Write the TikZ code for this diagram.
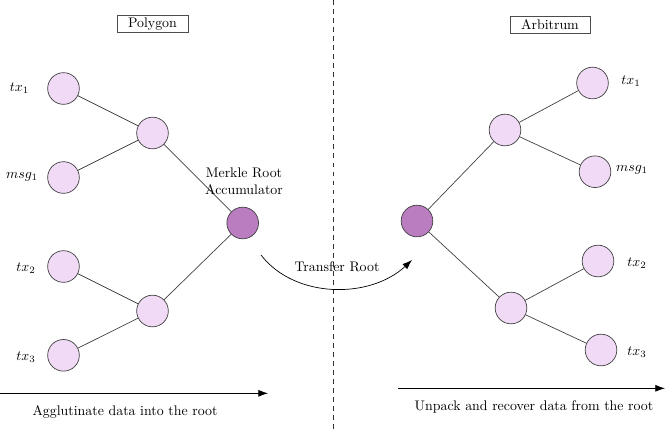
\documentclass[tikz,border=0pt]{standalone}
\usetikzlibrary{arrows.meta}
\definecolor{leaf}{HTML}{F1DAF5}
\definecolor{rootc}{HTML}{B97DC0}
\begin{document}
\begin{tikzpicture}[x=0.72pt,y=-0.72pt,
  leafnode/.style={circle,draw=black!75,fill=leaf,minimum size=22.8pt,inner sep=0pt,line width=0.5pt},
  rootnode/.style={circle,draw=black!75,fill=rootc,minimum size=22.8pt,inner sep=0pt,line width=0.5pt},
  link/.style={draw=black!75,line width=0.5pt},
  titlebox/.style={draw=black!70,line width=0.5pt,inner xsep=8pt,inner ysep=1.5pt,minimum height=12.4pt},
  flow/.style={draw=black,line width=0.5pt,-{Latex[length=7pt,width=5pt]}}]
\useasboundingbox (0,0) rectangle (665,433);
% divider
\coordinate (dtop) at (333,0);
\coordinate (dbot) at (333,433);
\draw[black!80,line width=0.5pt,dash pattern=on 3.5pt off 3pt] (dtop) -- (dbot);
% titles
\node[titlebox] (poly) at (152.5,24) {Polygon};
\node[titlebox] (arb) at (550,25) {Arbitrum};
% left tree
\node[leafnode] (l1) at (63.5,88.5) {};
\node[leafnode] (l2) at (63.5,177.5) {};
\node[leafnode] (l3) at (63.5,266.5) {};
\node[leafnode] (l4) at (63.5,355.3) {};
\node[leafnode] (lm1) at (152.5,133) {};
\node[leafnode] (lm2) at (152.5,311) {};
\node[rootnode] (lr) at (242.7,223) {};
\draw[link] (l1) -- (lm1);
\draw[link] (l2) -- (lm1);
\draw[link] (l3) -- (lm2);
\draw[link] (l4) -- (lm2);
\draw[link] (lm1) -- (lr);
\draw[link] (lm2) -- (lr);
\node (tl1) at (19.5,88) {$tx_1$};
\node (tl2) at (22,177) {$msg_1$};
\node (tl3) at (26,268) {$tx_2$};
\node (tl4) at (26,357) {$tx_3$};
\node[align=center,inner sep=0pt] (mra) at (244,181) {Merkle Root\\Accumulator};
% right tree
\node[rootnode] (rr) at (417,221) {};
\node[leafnode] (rm1) at (505,130) {};
\node[leafnode] (rm2) at (511,308) {};
\node[leafnode] (r1) at (592.5,83) {};
\node[leafnode] (r2) at (595,171.7) {};
\node[leafnode] (r3) at (598,261) {};
\node[leafnode] (r4) at (601,350) {};
\draw[link] (rr) -- (rm1);
\draw[link] (rr) -- (rm2);
\draw[link] (rm1) -- (r1);
\draw[link] (rm1) -- (r2);
\draw[link] (rm2) -- (r3);
\draw[link] (rm2) -- (r4);
\node (tr1) at (631,81) {$tx_1$};
\node (tr2) at (632,170) {$msg_1$};
\node (tr3) at (637,263) {$tx_2$};
\node (tr4) at (637,352) {$tx_3$};
% transfer arc
\coordinate (ts) at (261,255);
\coordinate (te) at (412,260);
\draw[flow] (ts) .. controls (295,299) and (370,299) .. (te);
\node (tlab) at (337,267) {Transfer Root};
% bottom arrows
\coordinate (la) at (0,393.3);
\coordinate (lb) at (268,393.3);
\draw[flow] (la) -- (lb);
\node (ltext) at (125,412) {Agglutinate data into the root};
\coordinate (ra) at (398,388.3);
\coordinate (rb) at (665,388.3);
\draw[flow] (ra) -- (rb);
\node (rtext) at (534,406.7) {Unpack and recover data from the root};
\end{tikzpicture}
\end{document}
